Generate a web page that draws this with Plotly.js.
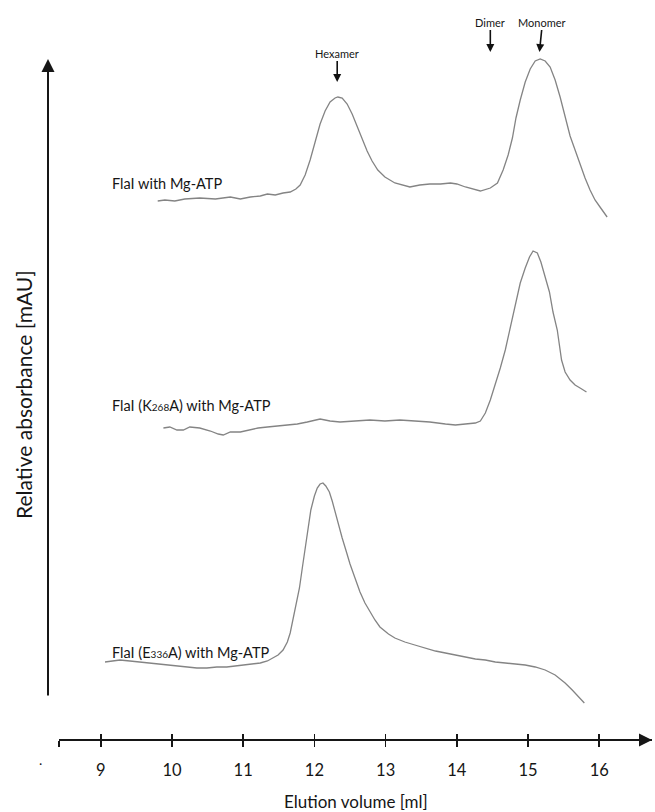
<!DOCTYPE html>
<html>
<head>
<meta charset="utf-8">
<script src="https://cdn.plot.ly/plotly-3.0.1.min.js"></script>
<style>html,body{margin:0;padding:0;background:#fff;}#chart{width:655px;height:812px;}</style>
</head>
<body>
<div id="chart"></div>
<script>
// Elution volume (ml) and relative absorbance (arbitrary, traces stacked)
const wtX = [9.80,9.90,10.04,10.18,10.39,10.61,10.82,10.96,11.10,11.24,11.34,11.45,11.56,11.66,11.74,11.80,11.87,11.94,12.01,12.08,12.15,12.22,12.29,12.33,12.39,12.46,12.53,12.60,12.67,12.74,12.81,12.89,12.99,13.13,13.34,13.48,13.62,13.77,13.91,14.00,14.12,14.23,14.33,14.47,14.57,14.65,14.72,14.78,14.83,14.89,14.96,15.03,15.10,15.17,15.24,15.31,15.38,15.45,15.52,15.59,15.66,15.73,15.80,15.87,15.94,16.01,16.11];
const wtY = [539,540,539,541,542,541,543,541,543,544,546,545,547,548,551,555,565,580,598,616,629,638,642,643,642,636,626,614,601,589,579,570,563,557,553,555,556,556,557,556,553,551,549,552,557,570,585,602,622,640,658,671,679,681,679,673,660,643,623,604,590,575,562,550,540,533,523];

const kX = [9.88,9.97,10.07,10.16,10.25,10.39,10.54,10.65,10.72,10.82,10.96,11.10,11.21,11.34,11.48,11.62,11.76,11.90,12.01,12.08,12.22,12.36,12.57,12.78,12.99,13.20,13.41,13.62,13.84,13.98,14.12,14.26,14.33,14.40,14.47,14.54,14.61,14.68,14.75,14.82,14.89,14.96,15.02,15.07,15.13,15.18,15.24,15.30,15.35,15.41,15.47,15.52,15.59,15.66,15.73,15.82];
const kY = [312,313,310,310,313,312,309,306,305,308,308,310,312,313,314,315,316,318,320,321,319,318,319,320,319,320,319,318,316,315,316,317,319,327,340,355,372,390,412,435,457,472,483,489,487,478,464,448,428,410,380,368,360,355,352,348];

const eX = [9.06,9.16,9.27,9.41,9.55,9.69,9.83,9.93,10.07,10.21,10.35,10.49,10.63,10.77,10.89,11.00,11.13,11.24,11.34,11.42,11.49,11.56,11.62,11.66,11.70,11.74,11.79,11.83,11.87,11.91,11.95,12.00,12.04,12.08,12.12,12.16,12.21,12.25,12.29,12.33,12.39,12.45,12.50,12.57,12.64,12.71,12.78,12.85,12.92,13.04,13.13,13.27,13.41,13.55,13.70,13.84,13.98,14.12,14.26,14.40,14.54,14.68,14.82,14.96,15.10,15.24,15.38,15.52,15.62,15.70,15.79];
const eY = [78,79,80,79,78,77,76,75,74,73,72,72,73,73,74,75,76,77,79,82,85,90,98,107,120,135,152,172,192,212,230,244,252,256,257,254,248,239,228,216,202,188,176,162,148,137,128,120,113,106,102,98,95,92,89,87,85,83,81,80,78,77,76,75,73,70,65,57,50,44,37];

const tickVals = [8.414, 9, 10, 11, 12, 13, 14, 15, 16];
const tickText = ['', '9', '10', '11', '12', '13', '14', '15', '16'];

const traceLabels = [
  {text: 'FlaI with Mg-ATP', x: 9.13, y: 557},
  {text: 'FlaI (K<span style="font-size:10px">268</span>A) with Mg-ATP', x: 9.13, y: 335},
  {text: 'FlaI (E<span style="font-size:10px">336</span>A) with Mg-ATP', x: 9.13, y: 88}
];
const markers = [
  {text: 'Hexamer', x: 12.32, y: 658, ay: -29, ax: 0},
  {text: 'Dimer', x: 14.47, y: 688, ay: -30, ax: 0},
  {text: 'Monomer', x: 15.16, y: 688, ay: -30, ax: 3}
];

const FONT = 'Lato, "Open Sans", sans-serif';
const INK = '#161616';
const LINE = {color: '#848484', width: 1.3};

const traces = [
  {x: wtX, y: wtY, type: 'scatter', mode: 'lines', line: LINE, hoverinfo: 'skip', xaxis: 'x', yaxis: 'y'},
  {x: kX, y: kY, type: 'scatter', mode: 'lines', line: LINE, hoverinfo: 'skip', xaxis: 'x', yaxis: 'y'},
  {x: eX, y: eY, type: 'scatter', mode: 'lines', line: LINE, hoverinfo: 'skip', xaxis: 'x2', yaxis: 'y'}
];

const xRange = [8.414, 16.74];
const xDomain = [11/604, 1];

const annotations = [];
traceLabels.forEach(l => annotations.push({
  text: l.text, x: l.x, y: l.y, xref: 'x', yref: 'y', xanchor: 'left', yanchor: 'middle',
  showarrow: false, font: {family: FONT, size: 14.5, color: INK}
}));
markers.forEach(m => annotations.push({
  text: m.text, x: m.x, y: m.y, xref: 'x', yref: 'y', showarrow: true,
  ax: m.ax, ay: m.ay, arrowhead: 2, arrowsize: 1, arrowwidth: 1.6, arrowcolor: '#111',
  standoff: 0, font: {family: FONT, size: 11, color: INK}
}));
// axis arrows
annotations.push({x: 16.74, y: 0, xref: 'x', yref: 'y', ax: -22, ay: 0, text: '', showarrow: true,
  arrowhead: 2, arrowsize: 1.3, arrowwidth: 2, arrowcolor: INK});
annotations.push({x: 0, y: 681, xref: 'paper', yref: 'y', ax: 0, ay: 638, text: '', showarrow: true,
  arrowhead: 2, arrowsize: 1.3, arrowwidth: 2, arrowcolor: INK});
// axis titles
annotations.push({text: 'Elution volume [ml]', x: 0.5 + xDomain[0]/2, y: 0, xref: 'paper', yref: 'paper',
  yshift: -61, showarrow: false, xanchor: 'center', yanchor: 'middle', font: {family: FONT, size: 17, color: INK}});
annotations.push({text: 'Relative absorbance [mAU]', x: 0, y: 0.5, xref: 'paper', yref: 'paper',
  xshift: -25, textangle: -90, showarrow: false, xanchor: 'center', yanchor: 'middle', font: {family: FONT, size: 21, color: INK}});
annotations.push({text: '.', x: 0, y: 0, xref: 'paper', yref: 'paper', xshift: -11, yshift: -30,
  showarrow: false, font: {family: FONT, size: 14, color: INK}});

const axisCommon = {
  range: xRange, domain: xDomain, anchor: 'free', position: 0, fixedrange: true,
  tickmode: 'array', tickvals: tickVals, ticktext: tickText, ticklen: 6, tickwidth: 1.6, tickcolor: INK,
  showgrid: false, zeroline: false
};

const layout = {
  width: 655, height: 812,
  margin: {l: 48, r: 3, t: 50, b: 72},
  paper_bgcolor: '#fff', plot_bgcolor: '#fff',
  showlegend: false,
  xaxis: Object.assign({}, axisCommon, {
    ticks: 'outside', showline: true, linecolor: INK, linewidth: 2,
    tickfont: {family: FONT, size: 16.5, color: INK}, ticklabelstandoff: 9
  }),
  xaxis2: Object.assign({}, axisCommon, {
    overlaying: 'x', ticks: 'inside', showline: false, showticklabels: false
  }),
  yaxis: {range: [0, 690], domain: [0, 1], visible: false, fixedrange: true, showgrid: false, zeroline: false},
  annotations: annotations
};

Plotly.newPlot('chart', traces, layout, {staticPlot: true, displayModeBar: false});
</script>
</body>
</html>
